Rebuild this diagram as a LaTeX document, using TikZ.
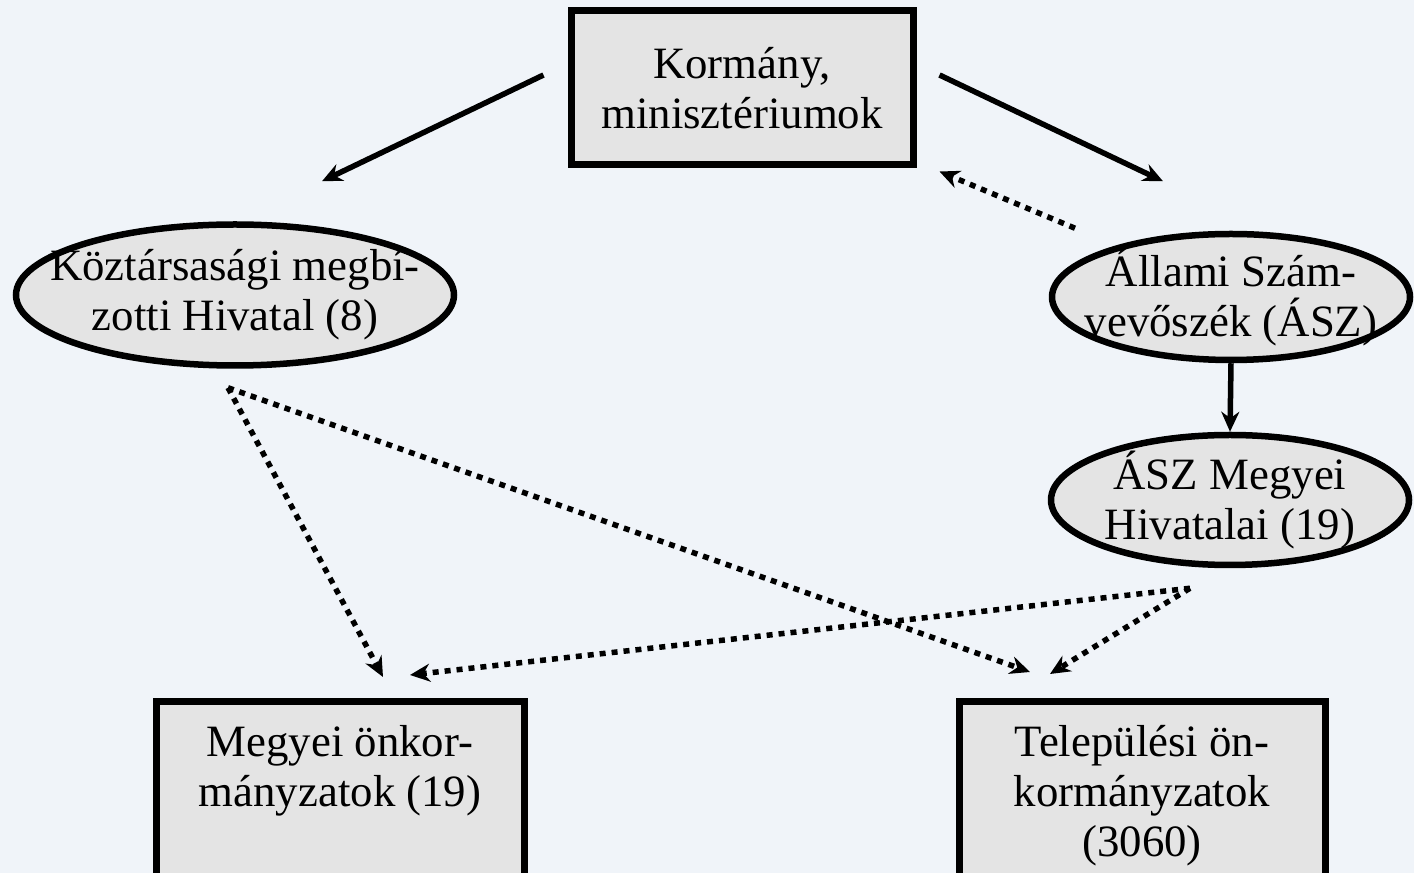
\documentclass[tikz,border=0pt]{standalone}
\usepackage{fontspec}
\setmainfont{Liberation Serif}
\usetikzlibrary{shapes.geometric,arrows.meta}

\definecolor{bgblue}{HTML}{F0F4F9}
\definecolor{boxgray}{HTML}{E4E4E4}

\tikzset{
  txt/.style={align=center,font=\fontsize{25.5}{28.5}\selectfont},
  box/.style={txt,draw,line width=0.14cm,fill=boxgray,rectangle},
  oval/.style={draw,line width=0.13cm,fill=boxgray,ellipse,inner sep=0pt},
  arr/.style={line width=0.11cm,-{Stealth[length=0.4cm,width=0.36cm]}},
  dotarr/.style={arr,dash pattern=on 0.12cm off 0.12cm}
}

\begin{document}
\begin{tikzpicture}
  \fill[bgblue] (0,0) rectangle (28.28,17.46);
  \useasboundingbox (0,0) rectangle (28.28,17.46);
  \clip (0,0) rectangle (28.28,17.46);

  % nodes
  \node[box,minimum width=6.84cm,minimum height=3.08cm] (korm) at (14.84,15.70)
    {Kormány,\\minisztériumok};
  \node[oval,minimum width=8.76cm,minimum height=2.82cm,
    label={[txt]center:Köztársasági megbí-\\zotti Hivatal (8)}] (koz) at (4.70,11.56) {};
  \node[oval,minimum width=7.16cm,minimum height=2.52cm,
    label={[txt]center:Állami Szám-\\vevőszék (ÁSZ)}] (asz) at (24.62,11.52) {};
  \node[oval,minimum width=7.16cm,minimum height=2.6cm,
    label={[txt]center:ÁSZ Megyei\\Hivatalai (19)}] (aszm) at (24.60,7.46) {};
  \node[box,minimum width=7.36cm,inner ysep=0.48cm,anchor=north] (megy) at (6.80,3.50)
    {Megyei önkor-\\mányzatok (19)\\\strut};
  \node[box,minimum width=7.32cm,inner ysep=0.48cm,anchor=north] (tele) at (22.84,3.50)
    {Települési ön-\\kormányzatok\\(3060)};

  % connectors
  \draw[arr] ([shift={(-0.48,0.26)}]korm.west) -- ([shift={(1.74,0.80)}]koz.north);
  \draw[arr] ([shift={(0.46,0.26)}]korm.east) -- ([shift={(-1.36,0.99)}]asz.north);
  \draw[dotarr] ([shift={(-3.12,0.05)}]asz.north) -- ([shift={(0.46,-0.06)}]korm.south east);
  \draw[arr] (asz.south) -- (aszm.north);

  \draw[dotarr] ([shift={(-0.14,-0.38)}]koz.south) -- ([shift={(0.86,0.42)}]megy.north);
  \draw[dotarr] ([shift={(-0.14,-0.38)}]koz.south) -- ([shift={(-2.24,0.52)}]tele.north);
  \draw[dotarr] ([shift={(-0.80,-0.40)}]aszm.south) -- ([shift={(1.40,0.46)}]megy.north);
  \draw[dotarr] ([shift={(-0.80,-0.40)}]aszm.south) -- ([shift={(-1.84,0.48)}]tele.north);
\end{tikzpicture}
\end{document}
